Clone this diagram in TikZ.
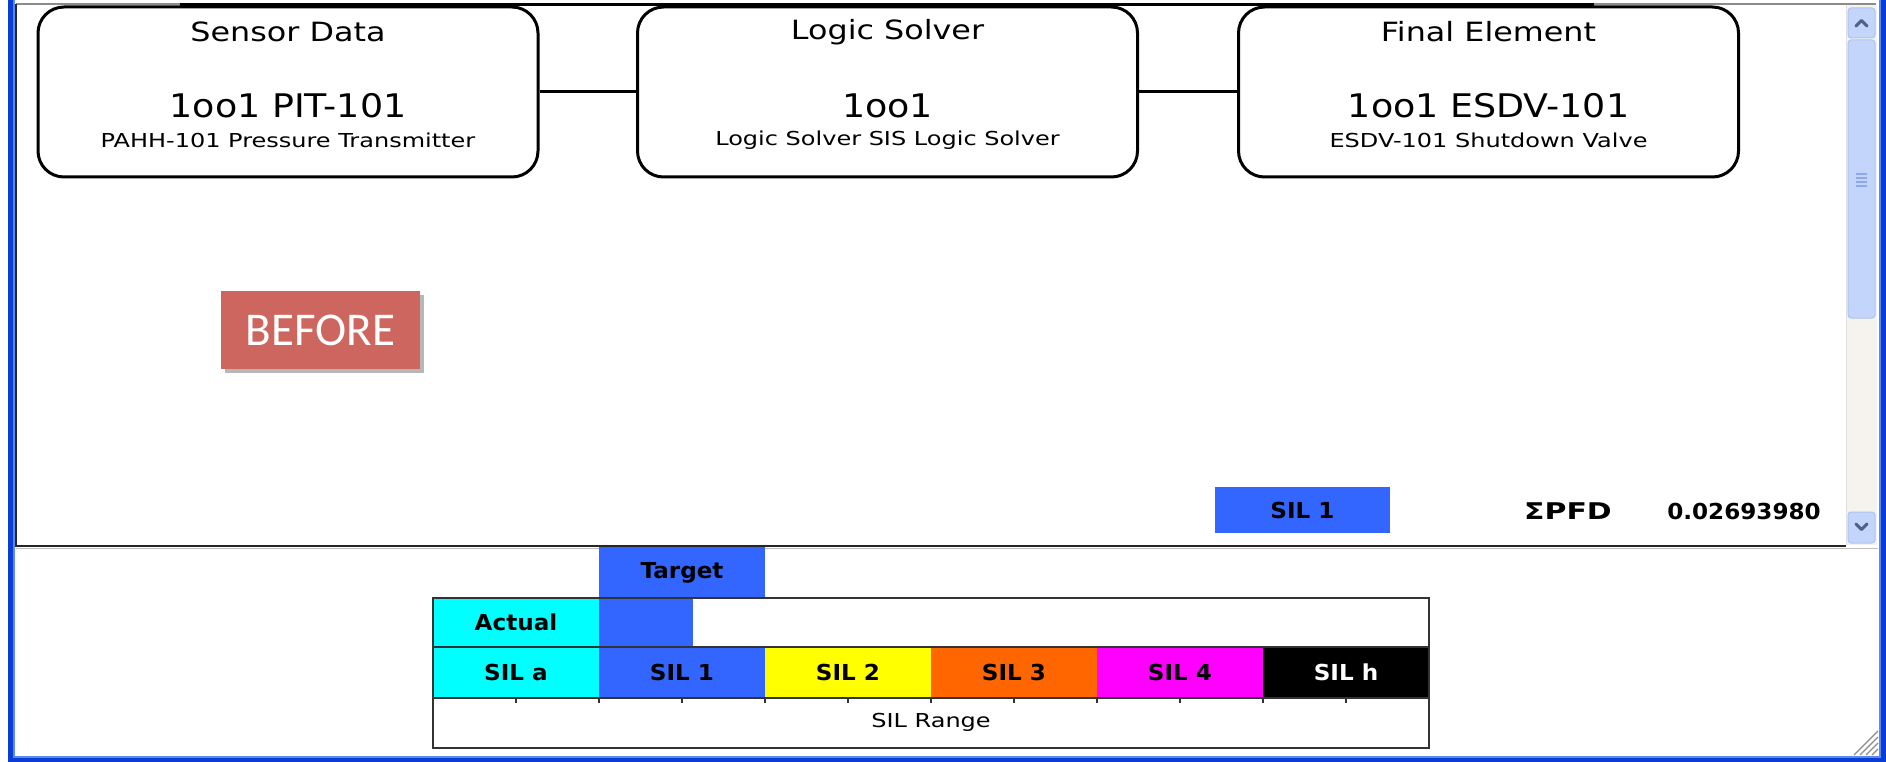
\documentclass[tikz,border=0pt]{standalone}
\usepackage{fontspec}
\usetikzlibrary{shadows}
\setmainfont{DejaVu Sans}
\newfontfamily\ttlfont[FakeStretch=1.2]{DejaVu Sans}
\newfontfamily\idfont[FakeStretch=1.12]{DejaVu Sans}
\newfontfamily\subfont[FakeStretch=1.25]{DejaVu Sans}
\newfontfamily\chartfont[FakeStretch=1.05]{DejaVu Sans}
\newfontfamily\sumfont[FakeStretch=1.3]{DejaVu Sans}
\newfontfamily\calfont{Carlito}

\definecolor{xpblue}{HTML}{0A3CD6}
\definecolor{xplight}{HTML}{5A8AF0}
\definecolor{track}{HTML}{F4F3EE}
\definecolor{btnfill}{HTML}{C4D5FB}
\definecolor{btnedge}{HTML}{AFC3EE}
\definecolor{chev}{HTML}{4D6185}
\definecolor{grip}{HTML}{8EA8E8}
\definecolor{silblue}{HTML}{3366FF}
\definecolor{silcyan}{HTML}{00FFFF}
\definecolor{silyellow}{HTML}{FFFF00}
\definecolor{silorange}{HTML}{FF6600}
\definecolor{silmagenta}{HTML}{FF00FF}
\definecolor{beforered}{HTML}{CD665E}

\begin{document}
\begin{tikzpicture}[x=1pt,y=-1pt,
  block/.style={draw=black, line width=3pt, rounded corners=26pt, fill=white,
    minimum width=500pt, minimum height=170pt, inner sep=0pt},
  link/.style={draw=black, line width=3pt},
  ttl/.style={inner sep=0pt, font=\ttlfont\fontsize{26.5}{30}\selectfont},
  idtxt/.style={inner sep=0pt, font=\idfont\fontsize{32.5}{36}\selectfont},
  subtxt/.style={inner sep=0pt, font=\subfont\fontsize{19.2}{23}\selectfont},
  cell/.style={inner sep=0pt, minimum width=166pt, minimum height=50pt,
    font=\chartfont\bfseries\fontsize{22}{26}\selectfont},
  plain/.style={inner sep=0pt, font=\chartfont\bfseries\fontsize{22}{26}\selectfont},
  gridline/.style={draw=black!80, line width=2pt},
  btn/.style={fill=btnfill, draw=btnedge, line width=1pt, rounded corners=3pt},
  chevron/.style={draw=chev, line width=3pt, line cap=round, line join=round}
]
\useasboundingbox (0,0) rectangle (1886,762);
\fill[white] (0,0) rectangle (1886,762);

% window frame
\fill[xpblue] (8,0) rectangle (15,762);
\fill[xpblue] (1879,0) rectangle (1886,762);
\fill[xpblue] (8,756) rectangle (1886,762);
\draw[xplight, line width=1.5pt] (14.2,0) -- (14.2,756.8) -- (1879.8,756.8) -- (1879.8,0);

% upper panel frame
\draw[black!45, line width=1.2pt] (16,4) -- (1876,4);
\draw[black, line width=3.5pt] (180,4.5) -- (1594,4.5);
\draw[black!85, line width=2pt] (16,4) -- (16,546) -- (1846,546);
\draw[black!25, line width=1.5pt] (16,548.5) -- (1878,548.5);

% scroll bar
\fill[track] (1846,5) rectangle (1877,545);
\draw[black!12, line width=1pt] (1846.5,5) -- (1846.5,545);
\draw[btn] (1848,8) rectangle (1875,38);
\draw[chevron] (1856,26) -- (1861.5,20.5) -- (1867,26);
\draw[btn] (1848,40) rectangle (1875,318);
\foreach \g in {174,178,182,186} \draw[grip, line width=1.2pt] (1856,\g) -- (1867,\g);
\draw[btn] (1848,512) rectangle (1875,543);
\draw[chevron] (1856,524) -- (1861.5,529.5) -- (1867,524);

% resize grip
\foreach \k in {6,12,18,24} \draw[black!45, line width=1.3pt] (1878-\k,755) -- (1878,755-\k);

% channel blocks
\node[block] (sensor) at (288,92) {};
\node[block] (logic) at (887.5,92) {};
\node[block] (final) at (1488.5,92) {};
\draw[link] (sensor.east) -- (logic.west);
\draw[link] (logic.east) -- (final.west);

\node[ttl] (sensorT) at (288,32) {Sensor Data};
\node[idtxt] (sensorI) at (288,106) {1oo1 PIT-101};
\node[subtxt] (sensorS) at (288,140) {PAHH-101 Pressure Transmitter};

\node[ttl] (logicT) at (887.5,32) {Logic Solver};
\node[idtxt] (logicI) at (887.5,106) {1oo1};
\node[subtxt] (logicS) at (887.5,140) {Logic Solver SIS Logic Solver};

\node[ttl] (finalT) at (1488.5,32) {Final Element};
\node[idtxt] (finalI) at (1488.5,106) {1oo1 ESDV-101};
\node[subtxt] (finalS) at (1488.5,140) {ESDV-101 Shutdown Valve};

% label
\node[fill=beforered, text=white, inner sep=0pt, minimum width=199pt, minimum height=78pt,
  font=\calfont\fontsize{47}{52}\selectfont,
  drop shadow={shadow xshift=4pt, shadow yshift=-4pt, opacity=0.4, fill=black!70}]
  (before) at (320.5,330) {BEFORE};

% result summary
\node[plain, fill=silblue, minimum width=175pt, minimum height=46pt] (silres) at (1302.5,510) {SIL 1};
\node[inner sep=0pt, font=\sumfont\bfseries\fontsize{23}{26}\selectfont] (pfdlab) at (1568,511) {ΣPFD};
\node[plain] (pfdval) at (1744,511) {0.02693980};

% SIL chart
\node[cell, fill=silblue, minimum height=51pt] (target) at (682,572.5) {Target};
\fill[silcyan] (433,598) rectangle (599,647);
\fill[silblue] (599,598) rectangle (693,647);
\node[plain] (actual) at (516,622.5) {Actual};

\node[cell, fill=silcyan, minimum height=51pt] (sila) at (516,672.5) {SIL a};
\node[cell, fill=silblue, minimum height=51pt] (sil1) at (682,672.5) {SIL 1};
\node[cell, fill=silyellow, minimum height=51pt] (sil2) at (848,672.5) {SIL 2};
\node[cell, fill=silorange, minimum height=51pt] (sil3) at (1014,672.5) {SIL 3};
\node[cell, fill=silmagenta, minimum height=51pt] (sil4) at (1180,672.5) {SIL 4};
\node[cell, fill=black, text=white, minimum height=51pt] (silh) at (1346,672.5) {SIL h};

\draw[gridline] (433,598) rectangle (1429,748);
\draw[gridline] (433,647) -- (1429,647);
\draw[gridline] (433,698) -- (1429,698);
\foreach \k in {1,...,11} \draw[black!80, line width=1.5pt] (433+83*\k,698) -- ++(0,5);
\node[subtxt] (range) at (931,722) {SIL Range};
\end{tikzpicture}
\end{document}
